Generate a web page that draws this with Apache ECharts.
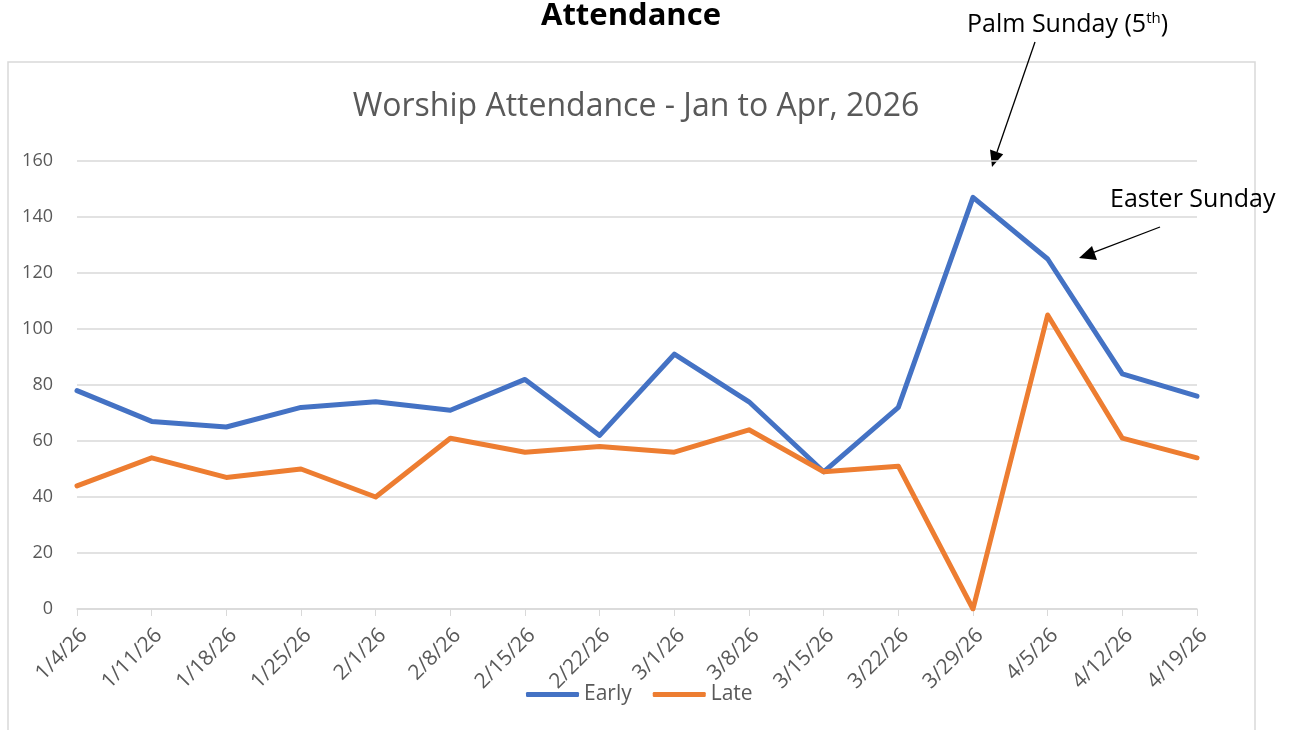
<!DOCTYPE html>
<html><head><meta charset="utf-8">
<script src="https://cdn.jsdelivr.net/npm/echarts@6/dist/echarts.min.js"></script>
<style>html,body{margin:0;padding:0;background:#fff}#c{width:1291px;height:730px}</style>
</head><body><div id="c"></div>
<script>
const categories = ['1/4/26','1/11/26','1/18/26','1/25/26','2/1/26','2/8/26','2/15/26','2/22/26','3/1/26','3/8/26','3/15/26','3/22/26','3/29/26','4/5/26','4/12/26','4/19/26'];
const early = [78,67,65,72,74,71,82,62,91,74,49,72,147,125,84,76];
const late  = [44,54,47,50,40,61,56,58,56,64,49,51,0,105,61,54];
const yTicks = {min:0, max:160, interval:20};

const FONT = 'Open Sans';
const chart = echarts.init(document.getElementById('c'));
chart.setOption({
  animation:false,
  backgroundColor:'#fff',
  textStyle:{fontFamily:FONT},
  title:[
    {text:'Worship Attendance - Jan to Apr, 2026', left:631, textAlign:'center', top:86,
     textStyle:{fontFamily:FONT,fontSize:32,fontWeight:'normal',color:'#595959'}}
  ],
  legend:{data:['Early','Late'], bottom:20, left:521, itemWidth:53, itemHeight:5, itemGap:21,
    icon:'roundRect',
    textStyle:{fontFamily:FONT,fontSize:21,color:'#595959',padding:[0,0,0,0]}},
  grid:{left:77, right:94, top:161, bottom:121, containLabel:false},
  xAxis:{type:'category', data:categories, boundaryGap:false,
    axisLine:{lineStyle:{color:'#d9d9d9',width:1.5}},
    axisTick:{show:true, alignWithLabel:true, length:7, lineStyle:{color:'#d9d9d9'}},
    axisLabel:{rotate:45, fontSize:21, color:'#595959', margin:30, interval:0, fontFamily:FONT, padding:[0,-10,0,0]}},
  yAxis:{type:'value', min:yTicks.min, max:yTicks.max, interval:yTicks.interval,
    axisLine:{show:false}, axisTick:{show:false},
    axisLabel:{fontSize:18, color:'#595959', margin:24, fontFamily:FONT},
    splitLine:{lineStyle:{color:'#d9d9d9',width:1.5}}},
  series:[
    {name:'Early', type:'line', data:early, showSymbol:false, symbol:'none',
     lineStyle:{color:'#4472C4',width:5,join:'round',cap:'round'}, itemStyle:{color:'#4472C4'}},
    {name:'Late', type:'line', data:late, showSymbol:false, symbol:'none',
     lineStyle:{color:'#ED7D31',width:5,join:'round',cap:'round'}, itemStyle:{color:'#ED7D31'}}
  ],
  graphic:[
    {type:'rect', shape:{x:8,y:62,width:1247,height:700}, style:{fill:null, stroke:'#d9d9d9', lineWidth:1.5}, z:-1},
    {type:'text', x:631, y:16, style:{text:'Attendance', fontFamily:FONT, fontSize:31, fontWeight:'bold', fill:'#000', align:'center', verticalAlign:'middle'}},
    {type:'text', x:967, y:25, style:{rich:{a:{fontFamily:FONT,fontSize:25,fill:'#000'}, s:{fontFamily:FONT,fontSize:15,fill:'#000',verticalAlign:'top', padding:[0,0,12,0]}},
      text:'{a|Palm Sunday (5}{s|th}{a|)}', verticalAlign:'middle'}},
    {type:'line', shape:{x1:1035,y1:42,x2:997,y2:152}, style:{stroke:'#000',lineWidth:1.3}},
    {type:'polygon', shape:{points:[[992,167],[990,149.6],[1003.2,154.2]]}, style:{fill:'#000'}},
    {type:'text', x:1110, y:200, style:{text:'Easter Sunday', fontFamily:FONT, fontSize:25, fill:'#000', verticalAlign:'middle'}},
    {type:'line', shape:{x1:1160,y1:227,x2:1093,y2:252.6}, style:{stroke:'#000',lineWidth:1.3}},
    {type:'polygon', shape:{points:[[1079,258],[1097,260],[1092,246]]}, style:{fill:'#000'}}
  ]
});
</script></body></html>
